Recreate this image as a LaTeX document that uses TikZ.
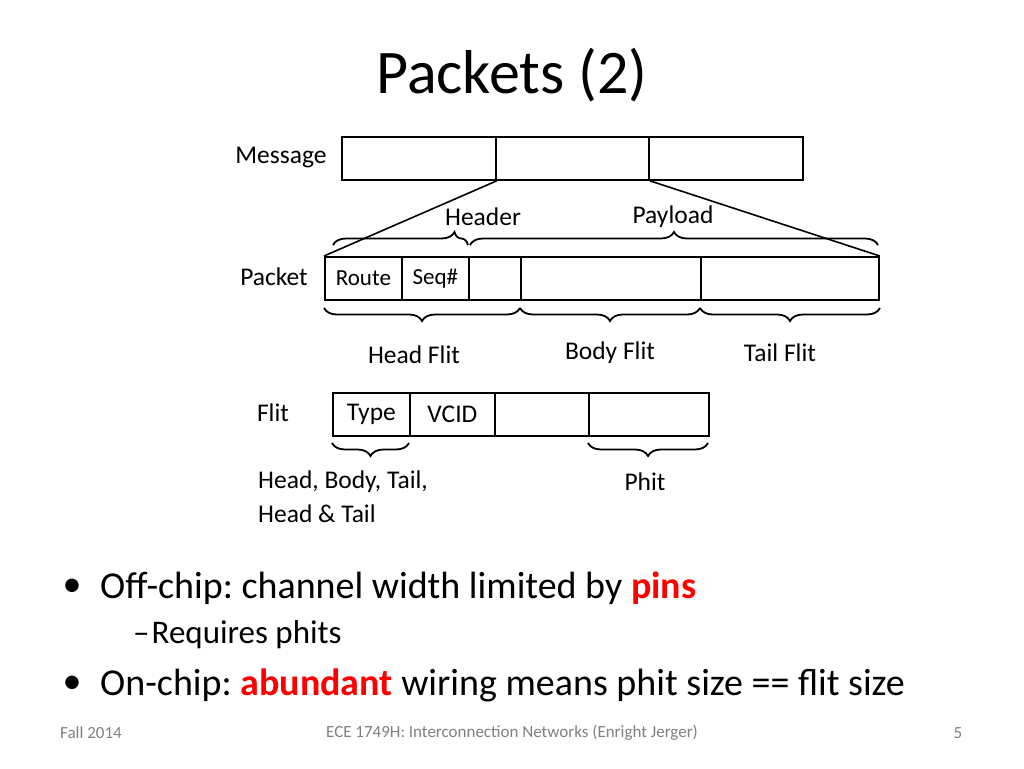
\documentclass[tikz,border=0pt]{standalone}
\usepackage{fontspec}
\setmainfont{Carlito}
\usetikzlibrary{decorations.pathreplacing}
\frenchspacing
\begin{document}
\begin{tikzpicture}[x=1pt,y=-1pt,
 box/.style={draw,line width=1.8pt,minimum height=43pt,inner sep=0pt,anchor=north west},
 lbl/.style={font=\fontsize{25.5}{30}\selectfont,inner sep=0pt},
 sml/.style={font=\fontsize{23}{27}\selectfont,inner sep=0pt},
 brc/.style={decorate,decoration={brace,amplitude=13pt},line width=1.8pt},
 ln/.style={line width=1.6pt}]
\useasboundingbox (0,0) rectangle (1024,768);
\node[font=\fontsize{62}{72}\selectfont] (title) at (512,75) {Packets (2)};
\node[lbl] (lm) at (281,158) {Message};
\node[box,minimum width=154pt] (m1) at (341,136) {};
\node[box,minimum width=153pt] (m2) at (495,136) {};
\node[box,minimum width=154pt] (m3) at (648,136) {};
\node[lbl] (lh) at (483,217) {Header};
\node[lbl] (lp) at (673,217) {Payload};
\node[lbl] (lpk) at (274,277) {Packet};
\node[box,minimum width=77pt] (p1) at (324,256) {};
\node[box,minimum width=67pt] (p2) at (401,256) {};
\node[box,minimum width=52pt] (p3) at (468,256) {};
\node[box,minimum width=180pt] (p4) at (520,256) {};
\node[box,minimum width=178pt] (p5) at (700,256) {};
\node[sml] (rt) at (p1.center) {Route};
\node[sml] (sq) at (p2.center) {Seq\#};
\draw[ln] (m1.south east) -- (p1.north west);
\draw[ln] (m2.south east) -- (p5.north east);
\draw[brc,decoration={aspect=0.9}] (333,245) -- (468,245);
\draw[brc] (470,245) -- (878,245);
\draw[brc,decoration={mirror}] (324,308) -- (520,308);
\draw[brc,decoration={mirror}] (520,308) -- (700,308);
\draw[brc,decoration={mirror}] (700,308) -- (880,308);
\node[lbl] (hf) at (414,355) {Head Flit};
\node[lbl] (bf) at (610,353) {Body Flit};
\node[lbl] (tf) at (780,353) {Tail Flit};
\node[lbl] (lf) at (273,413) {Flit};
\node[box,minimum width=77pt] (f1) at (332,392) {};
\node[box,minimum width=85pt] (f2) at (409,392) {};
\node[box,minimum width=94pt] (f3) at (494,392) {};
\node[box,minimum width=120pt] (f4) at (588,392) {};
\node[lbl] (ty) at (f1.center) {Type};
\node[lbl] (vc) at (f2.center) {VCID};
\draw[brc,decoration={mirror}] (332,443) -- (409,443);
\draw[brc,decoration={mirror}] (588,443) -- (708,443);
\node[lbl,anchor=west] (hb) at (258,482) {Head, Body, Tail,};
\node[lbl,anchor=west] (ht) at (258,514) {Head \& Tail};
\node[lbl] (ph) at (645,482) {Phit};
\node[font=\fontsize{38}{44}\selectfont,inner sep=0pt] (b1) at (72,588) {•};
\node[anchor=west,inner sep=0pt,font=\fontsize{38}{44}\selectfont] (t1) at (100,588) {Off-chip: channel width limited by \textcolor{red}{\textbf{pins}}};
\node[anchor=west,inner sep=0pt,font=\fontsize{33}{38}\selectfont] (t2) at (133,635) {–\hspace{2pt}Requires phits};
\node[font=\fontsize{38}{44}\selectfont,inner sep=0pt] (b2) at (72,685) {•};
\node[anchor=west,inner sep=0pt,font=\fontsize{38}{44}\selectfont] (t3) at (100,685) {On-chip: \textcolor{red}{\textbf{abundant}} wiring means phit size == flit size};
\node[anchor=west,inner sep=0pt,text=gray,font=\fontsize{17}{20}\selectfont] (f1t) at (60,733) {Fall 2014};
\node[text=gray,inner sep=0pt,font=\fontsize{17}{20}\selectfont] (f2t) at (512,733) {ECE 1749H: Interconnection Networks (Enright Jerger)};
\node[text=gray,font=\fontsize{17}{20}\selectfont] (f3t) at (958,733) {5};
\end{tikzpicture}
\end{document}
